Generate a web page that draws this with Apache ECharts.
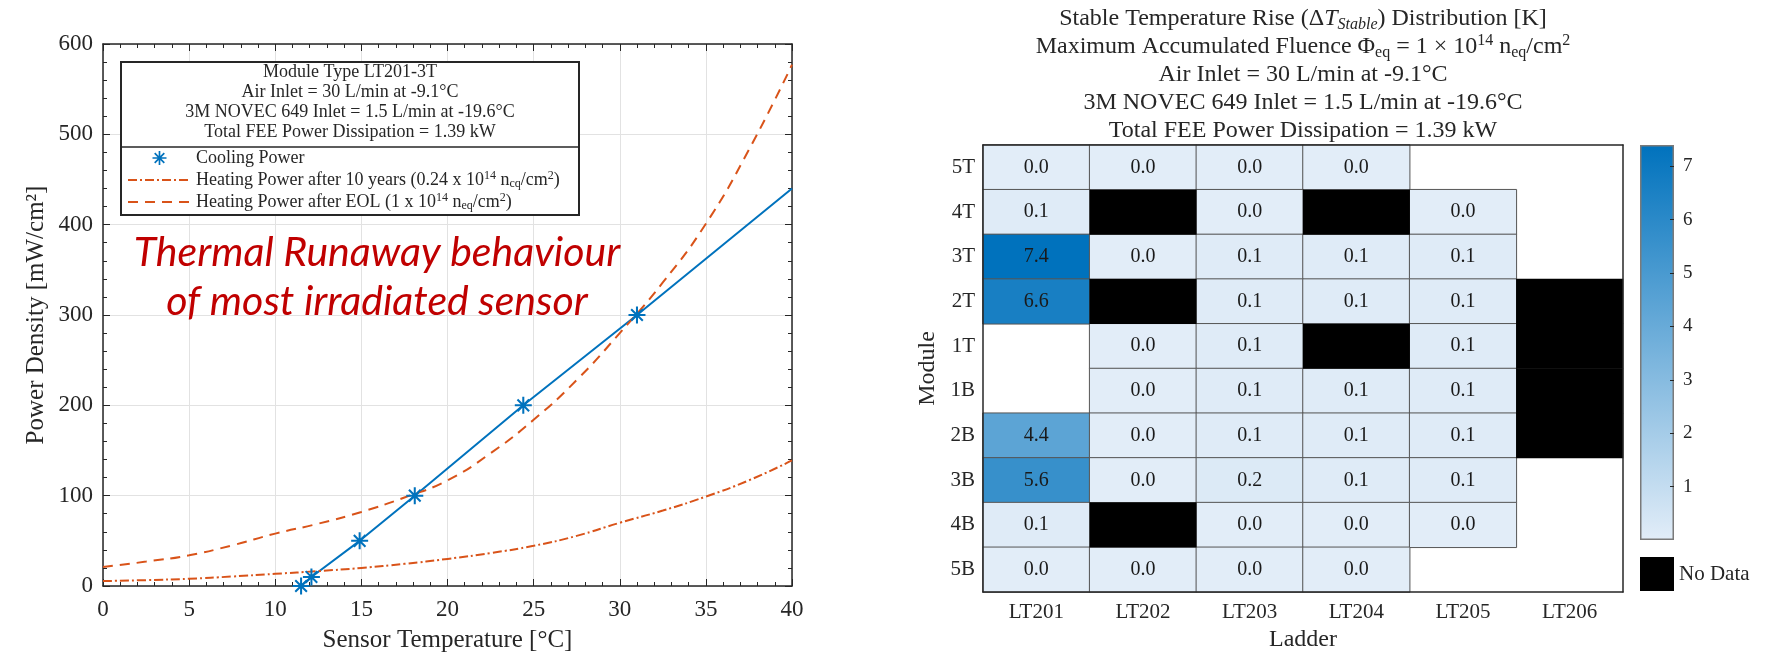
<!DOCTYPE html>
<html>
<head>
<meta charset="utf-8">
<script src="https://cdn.jsdelivr.net/npm/echarts/dist/echarts.min.js"></script>
<style>
  html, body { margin: 0; padding: 0; background: #fff; }
  #main { width: 1773px; height: 669px; }
</style>
</head>
<body>
<div id="main"></div>
<script>
// ---- left plot: thermal runaway of the most irradiated sensor ----
var temps   = [0, 2.5, 5, 7.5, 10, 12.5, 15, 17.5, 20, 22.5, 25, 27.5, 30, 32.5, 35, 37.5, 40];
var heat10y = [5.5, 6.5, 8, 10.5, 13.5, 16.5, 20, 24.5, 30, 36.5, 44.5, 55.5, 70, 83.5, 99, 117, 139];
var heatEol = [21, 27, 34, 45, 58, 69, 82, 98, 117, 147, 184, 228, 280, 336, 401, 483, 577];
var coolT   = [11.5, 12.1, 14.9, 18.1, 24.4, 31.0, 40];
var coolP   = [0, 10, 50, 100, 200, 300, 440];

// ---- right plot: stable temperature rise per module / ladder ----
var ladders = ['LT201', 'LT202', 'LT203', 'LT204', 'LT205', 'LT206'];
var modules = ['5T', '4T', '3T', '2T', '1T', '1B', '2B', '3B', '4B', '5B'];
var X = 'x'; // no data
var rise = [
  [0.0, 0.0, 0.0, 0.0, null, null],   // 5T
  [0.1, X,   0.0, X,   0.0,  null],   // 4T
  [7.4, 0.0, 0.1, 0.1, 0.1,  null],   // 3T
  [6.6, X,   0.1, 0.1, 0.1,  X],      // 2T
  [null, 0.0, 0.1, X,  0.1,  X],      // 1T
  [null, 0.0, 0.1, 0.1, 0.1, X],      // 1B
  [4.4, 0.0, 0.1, 0.1, 0.1,  X],      // 2B
  [5.6, 0.0, 0.2, 0.1, 0.1,  null],   // 3B
  [0.1, X,   0.0, 0.0, 0.0,  null],   // 4B
  [0.0, 0.0, 0.0, 0.0, null, null]    // 5B
];
var cbMin = 0, cbMax = 7.4;
var cbTicks = [1, 2, 3, 4, 5, 6, 7];

var blue = '#0072BD', orange = '#D95319', ink = '#262626';
var serif = 'Liberation Serif';
var cmap = ['#E2EDF8', '#0072BD'];

var coolData = coolT.map(function (t, i) {
  var d = { value: [t, coolP[i]] };
  if (i === coolT.length - 1) d.symbol = 'none';
  return d;
});
var pair = function (arr) { return temps.map(function (t, i) { return [t, arr[i]]; }); };

var cells = [], missing = [];
rise.forEach(function (row, r) {
  row.forEach(function (v, c) {
    if (v === X) missing.push([c, r, 1]);
    else if (v !== null) cells.push([c, r, v]);
  });
});

// asterisk marker (MATLAB '*')
var star = 'path://M-0.12,-1L0.12,-1L0.12,1L-0.12,1Z' +
  'M-1,-0.12L1,-0.12L1,0.12L-1,0.12Z' +
  'M-0.6,-0.77L0.77,0.6L0.6,0.77L-0.77,-0.6Z' +
  'M-0.77,0.6L0.6,-0.77L0.77,-0.6L-0.6,0.77Z';

var boxAxis = function (extra) {
  return Object.assign({
    axisLine: { show: true, onZero: false, lineStyle: { color: ink, width: 1.5 } },
    axisTick: { show: true, inside: true, length: 7, lineStyle: { color: ink } },
    minorTick: { show: true, splitNumber: 5, length: 4, lineStyle: { color: ink } },
    axisLabel: { show: false },
    splitLine: { show: false }
  }, extra);
};

var supsub = {
  sup: { fontFamily: serif, fontSize: 12, lineHeight: 12, verticalAlign: 'top', color: ink },
  sub: { fontFamily: serif, fontSize: 12, lineHeight: 6, verticalAlign: 'bottom', color: ink }
};
var legendNames = {
  'Cooling Power': 'Cooling Power',
  'Heating Power after 10 years': 'Heating Power after 10 years (0.24 x 10{sup|14} n{sub|cq}/cm{sup|2})',
  'Heating Power after EOL': 'Heating Power after EOL (1 x 10{sup|14} n{sub|eq}/cm{sup|2})'
};
var hidden = { opacity: 0 };

var chart = echarts.init(document.getElementById('main'));
var option = {
  animation: false,
  backgroundColor: '#fff',
  grid: [
    { left: 103, top: 44, width: 689, height: 542 },
    { left: 983, top: 145, width: 640, height: 447 },
    { left: 1640, top: 145, width: 34, height: 395 }
  ],
  xAxis: [
    boxAxis({
      gridIndex: 0, type: 'value', min: 0, max: 40, interval: 5, position: 'bottom',
      axisLabel: { show: true, fontFamily: serif, fontSize: 23, color: ink, margin: 12 },
      splitLine: { show: true, lineStyle: { color: '#e2e2e2', width: 1 } },
      name: 'Sensor Temperature [°C]', nameLocation: 'middle', nameGap: 42,
      nameTextStyle: { fontFamily: serif, fontSize: 25, color: ink }
    }),
    boxAxis({ gridIndex: 0, type: 'value', min: 0, max: 40, interval: 5, position: 'top' }),
    {
      gridIndex: 1, type: 'category', data: ladders, position: 'bottom', z: 10,
      axisLine: { lineStyle: { color: ink, width: 1.5 } },
      axisTick: { show: false },
      axisLabel: { fontFamily: serif, fontSize: 21, color: ink, margin: 10 },
      name: 'Ladder', nameLocation: 'middle', nameGap: 36,
      nameTextStyle: { fontFamily: serif, fontSize: 24, color: ink }
    },
    {
      gridIndex: 1, type: 'category', data: ladders, position: 'top', z: 10,
      axisLine: { lineStyle: { color: ink, width: 1.5 } },
      axisTick: { show: false }, axisLabel: { show: false }
    },
    {
      gridIndex: 2, type: 'category', data: [''], show: false
    }
  ],
  yAxis: [
    boxAxis({
      gridIndex: 0, type: 'value', min: 0, max: 600, interval: 100, position: 'left',
      axisLabel: { show: true, fontFamily: serif, fontSize: 23, color: ink, margin: 10 },
      splitLine: { show: true, lineStyle: { color: '#e2e2e2', width: 1 } },
      name: 'Power Density [mW/cm²]', nameLocation: 'middle', nameGap: 54, nameRotate: 90,
      nameTextStyle: { fontFamily: serif, fontSize: 25, color: ink }
    }),
    boxAxis({ gridIndex: 0, type: 'value', min: 0, max: 600, interval: 100, position: 'right' }),
    {
      gridIndex: 1, type: 'category', data: modules, inverse: true, position: 'left', z: 10,
      axisLine: { lineStyle: { color: ink, width: 1.5 } },
      axisTick: { show: false },
      axisLabel: { fontFamily: serif, fontSize: 21, color: ink, margin: 8 },
      name: 'Module', nameLocation: 'middle', nameGap: 43, nameRotate: 90,
      nameTextStyle: { fontFamily: serif, fontSize: 24, color: ink }
    },
    {
      gridIndex: 1, type: 'category', data: modules, inverse: true, position: 'right', z: 10,
      axisLine: { lineStyle: { color: ink, width: 1.5 } },
      axisTick: { show: false }, axisLabel: { show: false }
    },
    {
      gridIndex: 2, type: 'value', min: cbMin, max: cbMax, position: 'right', z: 10,
      axisLine: { show: false },
      axisTick: { show: true, inside: true, length: 4, customValues: cbTicks, lineStyle: { color: ink } },
      axisLabel: { fontFamily: serif, fontSize: 19, color: ink, margin: 9, customValues: cbTicks },
      splitLine: { show: false }
    }
  ],
  visualMap: {
    show: false, type: 'continuous', min: cbMin, max: cbMax, dimension: 2,
    seriesIndex: 3, inRange: { color: cmap }
  },
  legend: [
    {
      data: [
        { name: 'Cooling Power', icon: star, itemStyle: { color: blue } },
        { name: 'Heating Power after 10 years', itemStyle: hidden },
        { name: 'Heating Power after EOL', itemStyle: hidden }
      ],
      orient: 'vertical', left: 127, top: 148, padding: 0, z: 10,
      itemWidth: 63, itemHeight: 14, itemGap: 2,
      formatter: function (n) { return legendNames[n]; },
      textStyle: { fontFamily: serif, fontSize: 18, lineHeight: 20, color: ink, rich: supsub }
    },
    {
      data: [{ name: 'No Data', icon: 'rect' }],
      left: 1640, top: 557, padding: 0, itemWidth: 34, itemHeight: 34, itemGap: 0,
      textStyle: { fontFamily: serif, fontSize: 21, color: ink }
    }
  ],
  series: [
    {
      name: 'Cooling Power', type: 'line', xAxisIndex: 0, yAxisIndex: 0,
      data: coolData, color: blue, symbol: star, symbolSize: 17,
      lineStyle: { width: 2, color: blue }, itemStyle: { color: blue }, z: 3
    },
    {
      name: 'Heating Power after 10 years', type: 'line', xAxisIndex: 0, yAxisIndex: 0,
      data: pair(heat10y), smooth: true, symbol: 'none', color: orange, itemStyle: hidden,
      lineStyle: { width: 2, color: orange, type: [9, 3, 2, 3] }
    },
    {
      name: 'Heating Power after EOL', type: 'line', xAxisIndex: 0, yAxisIndex: 0,
      data: pair(heatEol), smooth: true, symbol: 'none', color: orange, itemStyle: hidden,
      lineStyle: { width: 2, color: orange, type: [10, 7] }
    },
    {
      name: 'Temperature Rise', type: 'heatmap', xAxisIndex: 2, yAxisIndex: 2,
      data: cells,
      itemStyle: { borderColor: '#555', borderWidth: 1 },
      label: {
        show: true, fontFamily: serif, fontSize: 20, color: '#1a1a1a',
        formatter: function (p) { return p.value[2].toFixed(1); }
      },
      emphasis: { disabled: true }
    },
    {
      name: 'No Data', type: 'heatmap', xAxisIndex: 2, yAxisIndex: 2,
      data: missing, itemStyle: { color: '#000' }, emphasis: { disabled: true }
    },
    {
      name: 'colorbar', type: 'bar', xAxisIndex: 4, yAxisIndex: 4,
      data: [cbMax], barWidth: '100%',
      itemStyle: {
        color: new echarts.graphic.LinearGradient(0, 1, 0, 0, [
          { offset: 0, color: cmap[0] }, { offset: 1, color: cmap[1] }
        ]),
        borderColor: '#7a7a7a', borderWidth: 1.5
      },
      emphasis: { disabled: true }
    }
  ],
  graphic: [
    {
      type: 'rect', z: 3,
      shape: { x: 121, y: 62, width: 458, height: 153 },
      style: { fill: '#fff', stroke: ink, lineWidth: 2 }
    },
    {
      type: 'line', z: 3,
      shape: { x1: 121, y1: 147, x2: 579, y2: 147 },
      style: { stroke: ink, lineWidth: 1.5 }
    },
    {
      type: 'text', z: 5, x: 350, y: 102,
      style: {
        text: 'Module Type LT201-3T\nAir Inlet = 30 L/min at -9.1°C\n3M NOVEC 649 Inlet = 1.5 L/min at -19.6°C\nTotal FEE Power Dissipation = 1.39 kW',
        align: 'center', verticalAlign: 'middle', fontFamily: serif, fontSize: 18, lineHeight: 20, fill: ink
      }
    },
    {
      type: 'text', z: 5, x: 377, y: 277,
      style: {
        text: 'Thermal Runaway behaviour\nof most irradiated sensor',
        align: 'center', verticalAlign: 'middle', fontFamily: 'Lato', fontStyle: 'italic',
        fontSize: 41, lineHeight: 49, fill: '#C00000'
      }
    },
    {
      type: 'text', z: 5, x: 1303, y: 5,
      style: {
        text: 'Stable Temperature Rise (Δ{it|T}{itsub|Stable}) Distribution [K]\n' +
              'Maximum Accumulated Fluence Φ{sub|eq} = 1 × 10{sup|14} n{sub|eq}/cm{sup|2}\n' +
              'Air Inlet = 30 L/min at -9.1°C\n' +
              '3M NOVEC 649 Inlet = 1.5 L/min at -19.6°C\n' +
              'Total FEE Power Dissipation = 1.39 kW',
        align: 'center', verticalAlign: 'top', fontFamily: serif, fontSize: 24, lineHeight: 28, fill: ink,
        rich: {
          it: { fontFamily: serif, fontSize: 24, fontStyle: 'italic', lineHeight: 28, fill: ink },
          itsub: { fontFamily: serif, fontSize: 16, fontStyle: 'italic', lineHeight: 12, verticalAlign: 'bottom', fill: ink },
          sub: { fontFamily: serif, fontSize: 16, lineHeight: 12, verticalAlign: 'bottom', fill: ink },
          sup: { fontFamily: serif, fontSize: 16, lineHeight: 20, verticalAlign: 'top', fill: ink }
        }
      }
    }
  ]
};
chart.setOption(option);
</script>
</body>
</html>
